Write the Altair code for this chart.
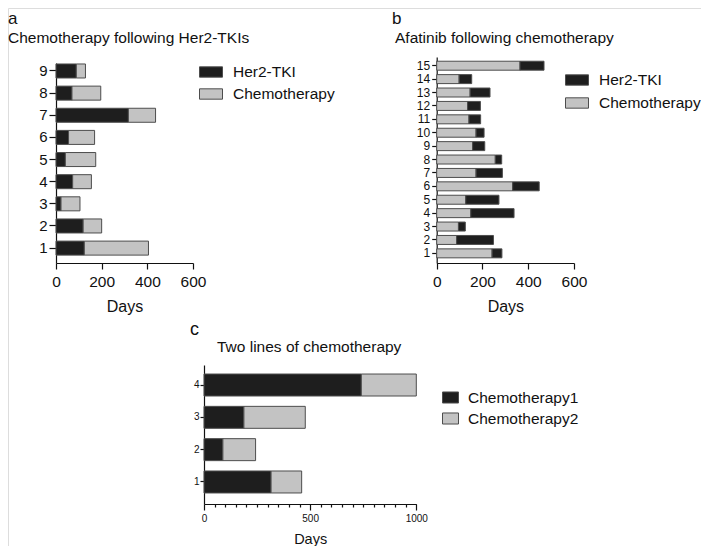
import altair as alt
import pandas as pd

FONT = "Liberation Sans"
BLACK = "#1e1e1e"
GRAY = "#c3c3c3"
EDGE = "#4d4d4d"

# ---- data -------------------------------------------------------------
a_cases = [1, 2, 3, 4, 5, 6, 7, 8, 9]
a_her2 = [124, 119, 22, 73, 41, 55, 317, 70, 89]
a_chemo = [281, 81, 83, 82, 133, 114, 119, 126, 40]

b_cases = list(range(1, 16))
b_chemo = [242, 87, 95, 149, 127, 332, 172, 256, 157, 172, 141, 135, 146, 98, 364]
b_her2 = [43, 161, 30, 189, 145, 116, 115, 28, 53, 35, 51, 56, 87, 55, 105]

c_cases = [1, 2, 3, 4]
c_chemo1 = [316, 89, 188, 741]
c_chemo2 = [144, 154, 289, 259]

ab_series = ["Her2-TKI", "Chemotherapy"]
c_series = ["Chemotherapy1", "Chemotherapy2"]

ab_ticks = [0, 200, 400, 600]
c_ticks = [0, 50, 100, 150, 200, 250, 300, 350, 400, 450, 500,
           550, 600, 650, 700, 750, 800, 850, 900, 950, 1000]

letters = ["a", "b", "c"]
titles = ["Chemotherapy following Her2-TKIs",
          "Afatinib following chemotherapy",
          "Two lines of chemotherapy"]


def long(cases, segs, names):
    rows = []
    for k, (vals, name) in enumerate(zip(segs, names)):
        for c, v in zip(cases, vals):
            rows.append({"case": c, "days": v, "series": name, "k": k})
    return pd.DataFrame(rows)


dfa = long(a_cases, [a_her2, a_chemo], ab_series)
dfb = long(b_cases, [b_chemo, b_her2], ["Chemotherapy", "Her2-TKI"])
dfc = long(c_cases, [c_chemo1, c_chemo2], c_series)

W, H = 693, 538


def xaxis(offset, values, lfs, tfs, lpad, tpad, tick, label_expr=None):
    kw = dict(orient="bottom", offset=offset, values=values, title="Days",
              format="d",
              grid=False, labelFlush=False, labelFont=FONT, labelFontSize=lfs,
              labelColor="#111", titleFont=FONT, titleFontSize=tfs,
              titleFontWeight="normal", titleColor="#111", titlePadding=tpad,
              labelPadding=lpad, tickSize=tick, tickColor="#111",
              domainColor="#111", domainWidth=1.2, tickWidth=1.2,
              labelOverlap=False)
    if label_expr:
        kw["labelExpr"] = label_expr
    return alt.Axis(**kw)


def yaxis(offset, lfs, tick, lpad):
    return alt.Axis(orient="left", offset=offset, title=None, grid=False,
                    labelFont=FONT, labelFontSize=lfs, labelColor="#111",
                    tickSize=tick, labelPadding=lpad, tickColor="#111",
                    domainColor="#111", domainWidth=1.2, tickWidth=1.2,
                    labelOverlap=False)


def legend(x, y, path, size, rowpad, fs, loff):
    return alt.Legend(orient="none", legendX=x, legendY=y, title=None,
                      labelFont=FONT, labelFontSize=fs, labelColor="#111",
                      symbolType=path, symbolSize=size,
                      symbolStrokeColor=EDGE, symbolStrokeWidth=1,
                      symbolOpacity=1, labelOffset=loff, rowPadding=rowpad,
                      padding=0)


PATH_AB = "M-1,-0.45H1V0.45H-1Z"
PATH_C = "M-1,-0.69H1V0.69H-1Z"

bar_a = alt.Chart(dfa).mark_bar(stroke=EDGE, strokeWidth=1).encode(
    x=alt.X("days:Q", stack="zero",
            scale=alt.Scale(domain=[0, 600], range=[48, 185], nice=False),
            axis=xaxis(-283, ab_ticks, 15.5, 16, 5, 9, 6)),
    y=alt.Y("case:O",
            scale=alt.Scale(domain=a_cases[::-1], range=[55, 255],
                            paddingInner=0.367, paddingOuter=0.2, align=0.11),
            axis=yaxis(-48, 15, 7, 2)),
    color=alt.Color("series:N",
                    scale=alt.Scale(domain=ab_series, range=[BLACK, GRAY]),
                    legend=legend(191, 52, PATH_AB, 529, 1, 15.5, 10)),
    order=alt.Order("k:Q"),
)

bar_b = alt.Chart(dfb).mark_bar(stroke=EDGE, strokeWidth=1).encode(
    x=alt.X("days:Q", stack="zero",
            scale=alt.Scale(domain=[0, 600], range=[428.7, 566], nice=False),
            axis=xaxis(-283, ab_ticks, 15.5, 16, 5, 9, 6)),
    y=alt.Y("case:O",
            scale=alt.Scale(domain=b_cases[::-1], range=[49, 255],
                            paddingInner=0.33, paddingOuter=0.35, align=0.45),
            axis=yaxis(-428.7, 12, 5, 2)),
    color=alt.Color("series:N",
                    scale=alt.Scale(domain=ab_series, range=[BLACK, GRAY]),
                    legend=legend(557, 60, PATH_AB, 529, 2, 15.5, 10)),
    order=alt.Order("k:Q"),
)

bar_c = alt.Chart(dfc).mark_bar(stroke=EDGE, strokeWidth=1).encode(
    x=alt.X("days:Q", stack="zero",
            scale=alt.Scale(domain=[0, 1000], range=[196, 408.3], nice=False),
            axis=xaxis(-42, c_ticks, 10, 14.5, 3, 9,
                       {"condition": {"test": "datum.value % 500 === 0", "value": 6}, "value": 3},
                       "datum.value % 500 === 0 ? datum.label : ''")),
    y=alt.Y("case:O",
            scale=alt.Scale(domain=c_cases[::-1], range=[357, 496],
                            paddingInner=0.32, paddingOuter=0.31, align=0.45),
            axis=yaxis(-196, 10, 4, 1)),
    color=alt.Color("series:N",
                    scale=alt.Scale(domain=c_series, range=[BLACK, GRAY]),
                    legend=legend(434, 381, PATH_C, 256, 4, 15.5, 9)),
    order=alt.Order("k:Q"),
)


def text(s, x, y, fs):
    return alt.Chart(pd.DataFrame({"t": [s]})).mark_text(
        align="left", baseline="alphabetic", font=FONT, fontSize=fs,
        color="#111").encode(text="t:N", x=alt.value(x), y=alt.value(y))


texts = [
    text(letters[0], 0, 16, 17),
    text(titles[0], 0, 34.5, 15.5),
    text(letters[1], 384, 16, 17),
    text(titles[1], 387, 35, 15.5),
    text(letters[2], 182, 327, 18),
    text(titles[2], 209, 343.7, 15.5),
]

chart = alt.layer(bar_a, bar_b, bar_c, *texts).resolve_scale(
    x="independent", y="independent", color="independent"
).properties(
    width=W, height=H, padding=0,
    autosize=alt.AutoSizeParams(type="none"),
).configure_view(strokeWidth=0).configure(font=FONT)

chart.save("out.html", embed_options={"renderer": "svg", "actions": False})
